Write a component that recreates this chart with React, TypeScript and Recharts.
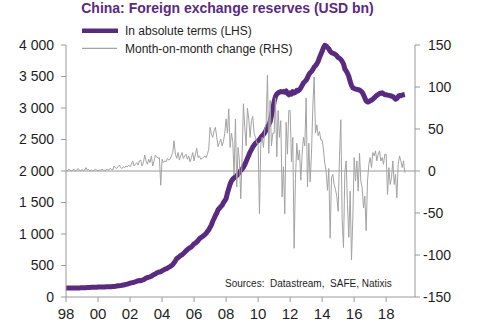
import React from 'react';
import { LineChart, Line, XAxis, YAxis, ReferenceLine } from 'recharts';

const START_YEAR = 1998;

// FX reserves, USD bn, monthly from Jan 1998 to Mar 2019
const reserves = [
  140, 141, 142, 141, 141, 141, 141, 142, 142, 143, 144, 145,
  146, 147, 147, 148, 149, 150, 152, 153, 153, 154, 154, 155,
  157, 157, 158, 158, 159, 160, 161, 161, 162, 163, 164, 166,
  168, 171, 175, 178, 180, 182, 185, 190, 195, 200, 205, 212,
  219, 225, 228, 234, 242, 250, 256, 262, 258, 266, 274, 286,
  299, 308, 316, 320, 330, 346, 356, 365, 384, 390, 397, 403,
  416, 427, 440, 446, 456, 471, 483, 497, 515, 543, 575, 610,
  624, 642, 659, 670, 691, 711, 733, 753, 769, 784, 795, 819,
  845, 854, 875, 895, 925, 941, 954, 972, 988, 1010, 1040, 1066,
  1105, 1145, 1202, 1246, 1293, 1333, 1385, 1408, 1434, 1455, 1497, 1528,
  1560, 1650, 1720, 1790, 1840, 1870, 1890, 1910, 1925, 1950, 1980, 2010,
  2030, 2060, 2100, 2150, 2200, 2250, 2300, 2340, 2380, 2410, 2440, 2460,
  2480, 2500, 2530, 2560, 2580, 2610, 2650, 2700, 2740, 2780, 2880, 2980,
  3100, 3180, 3220, 3240, 3250, 3260, 3255, 3260, 3250, 3270, 3230, 3210,
  3240, 3220, 3260, 3240, 3250, 3280, 3270, 3290, 3320, 3360, 3400, 3420,
  3440, 3480, 3530, 3560, 3580, 3610, 3650, 3670, 3700, 3740, 3800, 3850,
  3900, 3960, 3995, 3985, 3960, 3940, 3900, 3880, 3870, 3860, 3850, 3830,
  3800, 3790, 3770, 3740, 3700, 3620, 3590, 3550, 3500, 3420, 3360, 3320,
  3310, 3300, 3295, 3290, 3285, 3270, 3250, 3210, 3160, 3110, 3095, 3100,
  3115, 3125, 3140, 3160, 3180, 3200, 3215, 3230, 3235, 3240, 3225, 3210,
  3210, 3205, 3200, 3195, 3190, 3180, 3165, 3140, 3150, 3180, 3200, 3195,
  3205, 3210, 3215,
];

// Month-on-month change, USD bn
const change = [
  1, 0, 2, 1, 0, 1, 2, 0, 1, 3, 1, 0,
  2, 0, 1, 4, 1, 2, 0, 1, 0, 1, 2, 1,
  0, 1, 1, 2, 1, 1, 1, 2, 1, 3, 2, 1,
  6, 4, 3, 5, 7, 4, 3, 5, 4, 6, 5, 7,
  5, 8, 12, 6, 8, 10, 7, 12, 13, 6, 10, 19,
  12, 8, 14, 10, 18, 6, 12, 19, 17, 15, 16, -17,
  14, 10, 12, 11, 15, 13, 14, 18, 22, 36, 20, 15,
  22, 13, 18, 22, 15, 18, 20, 14, 18, 11, 16, 22,
  12, 20, 27, 16, 18, 14, 15, 16, 18, 16, 20, 26,
  52, 44, 40, 48, 52, 40, 29, 34, 38, 30, 35, 45,
  62, 45, 74, 28, 45, 35, -5, 62, -19, 28, 12, -33,
  17, 80, 52, 30, 75, 62, 40, 60, 65, 45, 40, 33,
  33, -51, 32, 40, 28, 50, 56, 114, 21, 84, 30, 45,
  45, 87, 17, 72, 40, 60, -31, 5, -51, 58, 20, 72,
  72, 11, 40, -92, -9, 33, 13, 25, -11, 20, 40, 30,
  87, -19, 33, -13, 20, 76, 112, 45, 55, 42, 47, 37,
  37, 25, 9, 0, -23, 3, -80, -8, -4, -16, -22, -30,
  -48, 17, 61, -58, -91, -2, 12, -40, -79, -24, -106, -56,
  16, -12, 12, -24, 21, -12, -20, -44, -30, -71, -12, 8,
  16, 4, 22, 18, 24, 12, 20, 24, 12, 16, 8, 20,
  20, -28, 4, -16, -8, 12, -16, -4, -32, 8, 18, 12,
  4, 12, -2,
];

const xTicks = [1998, 2000, 2002, 2004, 2006, 2008, 2010, 2012, 2014, 2016, 2018];
const leftTicks = [0, 500, 1000, 1500, 2000, 2500, 3000, 3500, 4000];
const rightTicks = [-150, -100, -50, 0, 50, 100, 150];

const TITLE = 'China: Foreign exchange reserves (USD bn)';
const SERIES_NAMES = ['In absolute terms (LHS)', 'Month-on-month change (RHS)'];
const SOURCE = 'Sources:  Datastream,  SAFE, Natixis';

const PURPLE = '#5a2a80';
const GREY = '#a3a3a3';
const AXIS = '#9a9a9a';
const TEXT = '#1e1e1e';
const FONT = '"Liberation Sans", Arial, sans-serif';

const data = reserves.map((v, i) => ({
  t: START_YEAR + i / 12,
  reserves: v,
  change: change[i],
}));

const fmtLeft = (v: number) => String(v).replace(/\B(?=(\d{3})+(?!\d))/g, ' ');
const fmtYear = (v: number) => String(Math.round(v) % 100).padStart(2, '0');

const RightTick = (props: any) => {
  const { x, y, payload } = props;
  const v = payload.value as number;
  return (
    <text x={v < 0 ? x - 5 : x} y={y} dy="0.355em" textAnchor="start" fontSize={14} fill={TEXT} fontFamily={FONT}>
      {String(v)}
    </text>
  );
};

export default function App() {
  return (
    <div style={{ position: 'relative', width: 479, height: 329, fontFamily: FONT }}>
      <style>{`body{margin:0;}`}</style>
      <LineChart width={479} height={329} data={data} margin={{ top: 45, right: 0, bottom: 2, left: 0 }}>
        <XAxis
          dataKey="t"
          type="number"
          domain={[1998, 2019.8]}
          ticks={xTicks}
          tickFormatter={fmtYear}
          stroke={AXIS}
          tickSize={5}
          tickMargin={6}
          height={30}
          tick={{ fontSize: 15, fill: TEXT, fontFamily: FONT }}
          allowDataOverflow
        />
        <YAxis
          yAxisId="left"
          orientation="left"
          domain={[0, 4000]}
          ticks={leftTicks}
          tickFormatter={fmtLeft}
          width={66}
          stroke={AXIS}
          tickSize={5}
          tickMargin={7}
          tick={{ fontSize: 14, fill: TEXT, fontFamily: FONT }}
          interval={0}
        />
        <YAxis
          yAxisId="right"
          orientation="right"
          domain={[-150, 150]}
          ticks={rightTicks}
          width={64}
          stroke={AXIS}
          tickSize={5}
          tickMargin={8}
          tick={<RightTick />}
          interval={0}
        />
        <ReferenceLine yAxisId="right" y={0} stroke={AXIS} strokeWidth={1} />
        <Line
          yAxisId="left"
          dataKey="reserves"
          stroke={PURPLE}
          strokeWidth={5}
          dot={false}
          isAnimationActive={false}
          strokeLinejoin="round"
        />
        <Line
          yAxisId="right"
          dataKey="change"
          stroke={GREY}
          strokeWidth={1}
          dot={false}
          isAnimationActive={false}
        />
      </LineChart>
      <svg width={479} height={329} style={{ position: 'absolute', left: 0, top: 0, pointerEvents: 'none' }}>
        <text x={227.5} y={13} textAnchor="middle" fontSize={14} fontWeight="bold" fill={PURPLE} fontFamily={FONT}>
          {TITLE}
        </text>
        <line x1={82} y1={30.7} x2={118} y2={30.7} stroke={PURPLE} strokeWidth={4.5} />
        <text x={125} y={35} fontSize={12} fill={TEXT} fontFamily={FONT}>{SERIES_NAMES[0]}</text>
        <line x1={82} y1={48.3} x2={117} y2={48.3} stroke={GREY} strokeWidth={1.2} />
        <text x={125} y={52.5} fontSize={12} fill={TEXT} fontFamily={FONT}>{SERIES_NAMES[1]}</text>
        <text x={225} y={287.3} fontSize={10} fill={TEXT} fontFamily={FONT} style={{ whiteSpace: 'pre' }}>
          {SOURCE}
        </text>
      </svg>
    </div>
  );
}
